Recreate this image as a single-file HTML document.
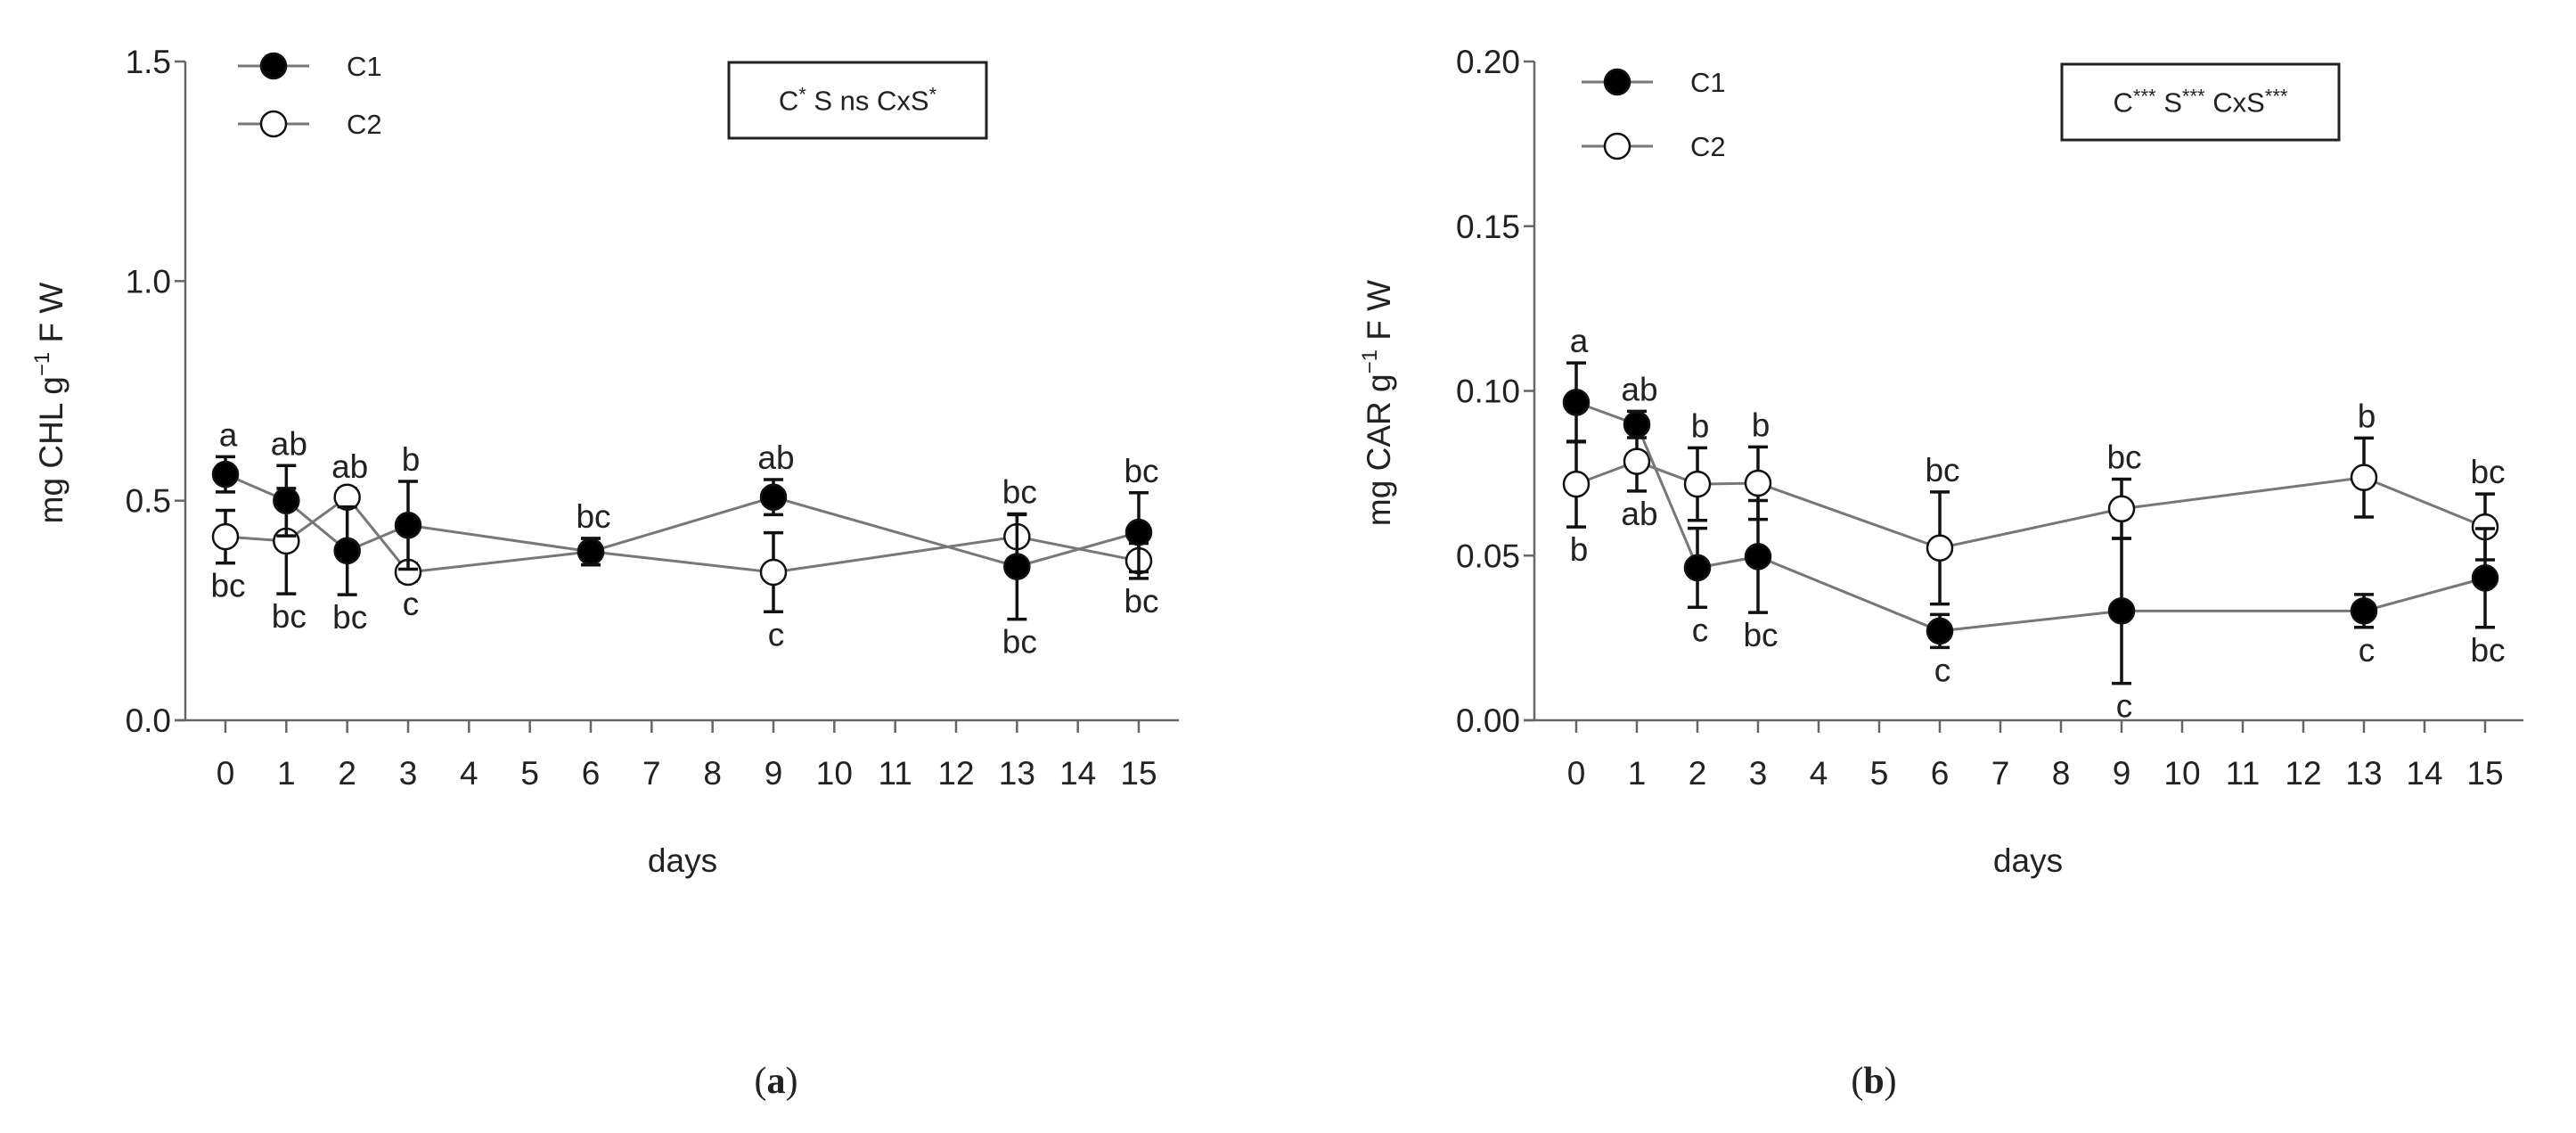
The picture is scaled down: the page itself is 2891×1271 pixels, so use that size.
<!DOCTYPE html>
<html><head><meta charset="utf-8"><style>
body{margin:0;background:#fff}
svg{display:block}
text{font-family:"Liberation Sans",sans-serif;fill:#222}
</style></head><body>
<svg id="s" width="2891" height="1271" viewBox="0 0 2891 1271" xmlns="http://www.w3.org/2000/svg">
<text x="871" y="1226" style="font-family:'Liberation Serif',serif" font-size="42" text-anchor="middle">(<tspan font-weight="bold">a</tspan>)</text>
<text x="2103" y="1226" style="font-family:'Liberation Serif',serif" font-size="42" text-anchor="middle">(<tspan font-weight="bold">b</tspan>)</text>
</svg>
<script>
const days = [0,1,2,3,6,9,13,15];
const tickDays = [0,1,2,3,4,5,6,7,8,9,10,11,12,13,14,15];
const chlC1 = [0.56,0.50,0.386,0.444,0.384,0.508,0.35,0.428];
const chlC1Err = [0.04,0.08,0.10,0.10,0.03,0.04,0.12,0.09];
const chlC2 = [0.418,0.408,0.508,0.337,0.384,0.337,0.418,0.363];
const chlC2Err = [0.06,0.12,0.02,0.02,0.03,0.09,0.05,0.04];
const chlAbove = ["a","ab","ab","b","bc","ab","bc","bc"];
const chlBelow = ["bc","bc","bc","c","","c","bc","bc"];
const chlYTicks = [0,0.5,1.0,1.5];
const chlYLabels = ["0.0","0.5","1.0","1.5"];
const carC1 = [0.0965,0.0898,0.0463,0.0497,0.0271,0.0332,0.0332,0.0432];
const carC1Err = [0.012,0.004,0.012,0.017,0.005,0.022,0.005,0.015];
const carC2 = [0.0717,0.0786,0.0717,0.072,0.0523,0.0642,0.0737,0.0587];
const carC2Err = [0.013,0.009,0.011,0.011,0.017,0.009,0.012,0.010];
const carAbove = ["a","ab","b","b","bc","bc","b","bc"];
const carBelow = ["b","ab","c","bc","c","c","c","bc"];
const carYTicks = [0,0.05,0.10,0.15,0.20];
const carYLabels = ["0.00","0.05","0.10","0.15","0.20"];

const NS="http://www.w3.org/2000/svg";
const svg=document.getElementById('s');
function mk(tag,attrs,parent,txt){const e=document.createElementNS(NS,tag);for(const k in attrs)e.setAttribute(k,attrs[k]);if(txt!==undefined)e.textContent=txt;(parent||svg).appendChild(e);return e;}

function chart(o){
  const g=mk('g',{});
  
  
  const x=d=>o.x0+(o.x15-o.x0)*d/15;
  const y=v=>o.yb-(o.yb-o.yt)*v/o.ymax;
  let e=mk('line',{x1:o.ax,y1:o.yt,x2:o.ax,y2:o.yb,stroke:'#666','stroke-width':2.5},g);
  
  e=mk('line',{x1:o.ax-12,y1:o.yb,x2:o.axEnd,y2:o.yb,stroke:'#666','stroke-width':2.5},g);
  
  o.yTicks.forEach((v,i)=>{
    mk('line',{x1:o.ax-12,y1:y(v),x2:o.ax,y2:y(v),stroke:'#666','stroke-width':2.5},g);
    e=mk('text',{x:o.ax-16,y:y(v)+13,'font-size':37,'text-anchor':'end'},g,o.yLabels[i]);
    
  });
  tickDays.forEach(d=>{
    mk('line',{x1:x(d),y1:o.yb,x2:x(d),y2:o.yb+14,stroke:'#666','stroke-width':2.5},g);
    e=mk('text',{x:x(d),y:o.yb+72,'font-size':37,'text-anchor':'middle'},g,String(d));
    
  });
  e=mk('text',{x:o.daysX,y:978,'font-size':37,'text-anchor':'middle'},g,'days');
  
  e=mk('text',{x:0,y:0,'font-size':37,'text-anchor':'middle',transform:`translate(${o.titleX},452) rotate(-90)`},g);
  
  e.innerHTML=`mg ${o.label} g<tspan dy="-15" font-size="24">−1</tspan><tspan dy="15"> F W</tspan>`;
  [[o.c2,o.c2e,'#fff'],[o.c1,o.c1e,'#000']].forEach(([vals,errs,fill],si)=>{
    const pts=days.map((d,i)=>x(d)+','+y(vals[i])).join(' ');
    e=mk('polyline',{points:pts,fill:'none',stroke:'#777','stroke-width':3},g);
    
    days.forEach((d,i)=>{
      const cx=x(d),t=y(vals[i]+errs[i]),b=y(vals[i]-errs[i]);
      e=mk('path',{d:`M${cx},${t}V${b}M${cx-11},${t}H${cx+11}M${cx-11},${b}H${cx+11}`,stroke:'#111','stroke-width':3.5,fill:'none'},g);
      
    });
    days.forEach((d,i)=>{
      e=mk('circle',{cx:x(d),cy:y(vals[i]),r:14,fill:fill,stroke:'#111','stroke-width':2.5},g);
      
    });
  });
  days.forEach((d,i)=>{
    const top=Math.min(y(o.c1[i]+o.c1e[i]),y(o.c2[i]+o.c2e[i]));
    const bot=Math.max(y(o.c1[i]-o.c1e[i]),y(o.c2[i]-o.c2e[i]));
    if(o.above[i]){e=mk('text',{x:x(d)+3,y:top-12,'font-size':37,'text-anchor':'middle'},g,o.above[i]);
      }
    if(o.below[i]){e=mk('text',{x:x(d)+3,y:bot+38,'font-size':37,'text-anchor':'middle'},g,o.below[i]);
      }
  });
  [[o.legY1,'#000','C1'],[o.legY2,'#fff','C2']].forEach(([ly,f,t])=>{
    const lg=mk('g',{},g);
    
    mk('line',{x1:o.legX-40,y1:ly,x2:o.legX+40,y2:ly,stroke:'#777','stroke-width':3},lg);
    mk('circle',{cx:o.legX,cy:ly,r:14,fill:f,stroke:'#111','stroke-width':2.5},lg);
    mk('text',{x:o.legX+82,y:ly+11,'font-size':31},lg,t);
  });
  e=mk('rect',{x:o.box[0],y:o.box[1],width:o.box[2],height:o.box[3],fill:'#fff',stroke:'#222','stroke-width':3},g);
  
  e=mk('text',{x:o.box[0]+o.box[2]/2,y:o.box[1]+o.box[3]/2+11,'font-size':31,'text-anchor':'middle'},g);
  
  e.innerHTML=o.boxText;
}
chart({name:'chart-chl',ax:208,axEnd:1323,x0:253,x15:1278,yt:69,yb:808,ymax:1.5,yTicks:chlYTicks,yLabels:chlYLabels,
  c1:chlC1,c1e:chlC1Err,c2:chlC2,c2e:chlC2Err,above:chlAbove,below:chlBelow,label:'CHL',titleX:70,daysX:766,
  legX:307,legY1:74,legY2:139,box:[818,70,289,85],boxText:'C<tspan dy="-10" font-size="22">*</tspan><tspan dy="10">   S ns CxS</tspan><tspan dy="-10" font-size="22">*</tspan>'});
chart({name:'chart-car',ax:1722,axEnd:2832,x0:1769,x15:2789,yt:69,yb:808,ymax:0.2,yTicks:carYTicks,yLabels:carYLabels,
  c1:carC1,c1e:carC1Err,c2:carC2,c2e:carC2Err,above:carAbove,below:carBelow,label:'CAR',titleX:1560,daysX:2276,
  legX:1815,legY1:92,legY2:164,box:[2314,72,311,85],boxText:'C<tspan dy="-10" font-size="22">***</tspan><tspan dy="10"> S</tspan><tspan dy="-10" font-size="22">***</tspan><tspan dy="10"> CxS</tspan><tspan dy="-10" font-size="22">***</tspan>'});
</script>
</body></html>
